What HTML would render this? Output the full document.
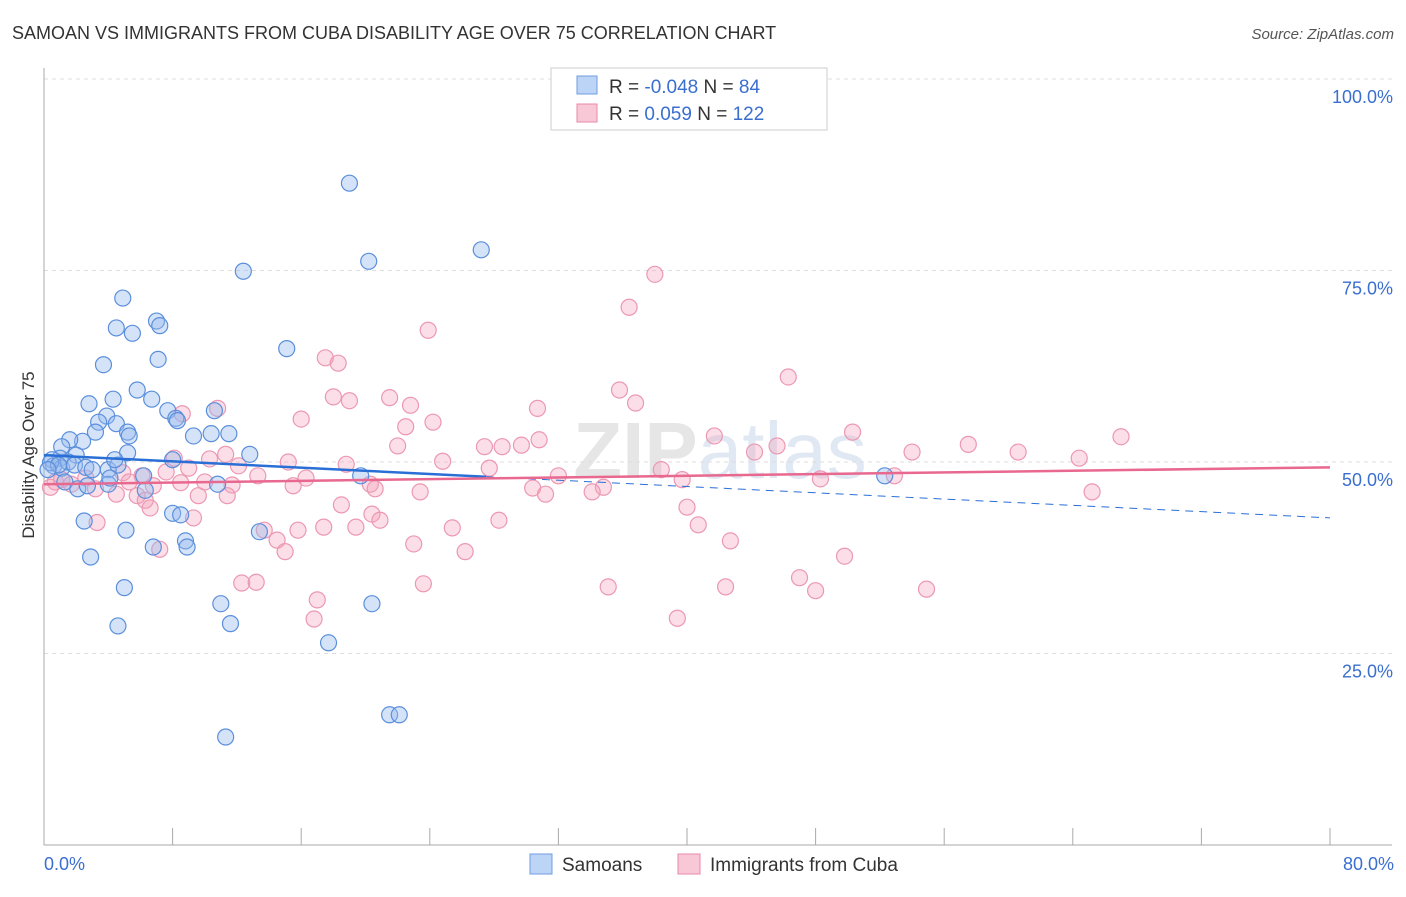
<!DOCTYPE html>
<html><head><meta charset="utf-8"><style>
body{margin:0;background:#fff;font-family:"Liberation Sans",sans-serif}
svg text{font-family:"Liberation Sans",sans-serif}
</style></head><body>
<svg id="c" width="1406" height="892">
<text x="12" y="39" font-size="18" fill="#333">SAMOAN VS IMMIGRANTS FROM CUBA DISABILITY AGE OVER 75 CORRELATION CHART</text>
<text x="1394" y="39" font-size="15" fill="#555" font-style="italic" text-anchor="end">Source: ZipAtlas.com</text>
<text x="720" y="478" font-size="80" fill="#e6e6e6" text-anchor="middle" font-weight="bold">ZIP<tspan fill="#dfe8f3" font-weight="normal">atlas</tspan></text>
<g id="grid"></g><g id="pts"></g><g id="trend"></g>
<text x="34" y="455" font-size="17" fill="#333" text-anchor="middle" transform="rotate(-90 34 455)">Disability Age Over 75</text>
<g>
<rect x="551" y="68" width="276" height="62" fill="#fff" stroke="#ccc"/>
<rect x="577" y="76" width="20" height="18" fill="#bcd4f5" stroke="#6f9de0"/>
<rect x="577" y="104" width="20" height="18" fill="#f8c8d6" stroke="#e88aa8"/>
<text x="609" y="93" font-size="19" fill="#333">R = <tspan fill="#3a6fd0">-0.048</tspan>   N =  <tspan fill="#3a6fd0">84</tspan></text>
<text x="609" y="120" font-size="19" fill="#333">R =  <tspan fill="#3a6fd0"> 0.059</tspan>   N = <tspan fill="#3a6fd0">122</tspan></text>
</g>
<g>
<rect x="530" y="854" width="22" height="20" fill="#bcd4f5" stroke="#6f9de0"/>
<text x="562" y="871" font-size="19" fill="#333">Samoans</text>
<rect x="678" y="854" width="22" height="20" fill="#f8c8d6" stroke="#e88aa8"/>
<text x="710" y="871" font-size="19" fill="#333">Immigrants from Cuba</text>
</g>
</svg>
<script>
const xTicks=[0,8,16,24,32,40,48,56,64,72,80];
const yTicks=[25,50,75,100];
const yTickLabels=["25.0%","50.0%","75.0%","100.0%"];
const blueX=[19.0,27.2,20.2,12.4,4.9,7.0,7.2,4.5,5.5,15.1,7.1,3.7,5.8,4.3,6.7,2.8,7.7,10.6,3.9,8.2,8.3,3.4,4.5,5.2,3.2,5.3,9.3,10.4,11.5,2.4,1.6,1.1,12.8,5.2,2.0,1.0,0.5,0.6,1.1,1.5,1.9,2.6,3.0,4.0,4.6,8.0,19.7,6.2,1.3,2.1,2.7,4.0,4.1,10.8,6.3,52.3,8.0,8.5,2.5,5.1,13.4,8.8,6.8,8.9,2.9,5.0,11.0,20.4,4.6,11.6,17.7,21.5,22.1,11.3,0.4,0.9,0.25,4.4];
const blueY=[86.4,77.7,76.2,74.9,71.4,68.4,67.8,67.5,66.8,64.8,63.4,62.7,59.4,58.2,58.2,57.6,56.7,56.7,56.0,55.7,55.4,55.2,55.0,53.9,53.9,53.4,53.4,53.7,53.7,52.7,52.9,52.0,51.0,51.2,50.9,50.5,50.3,49.5,49.2,50.0,49.6,49.3,49.0,49.0,49.6,50.3,48.2,48.2,47.4,46.5,46.9,47.1,47.9,47.1,46.3,48.2,43.3,43.1,42.3,41.1,40.9,39.7,38.9,38.9,37.6,33.6,31.5,31.5,28.6,28.9,26.4,17.0,17.0,14.1,49.9,49.6,49.0,50.3];
const pinkX=[38.0,36.4,23.9,17.5,18.3,46.3,35.8,18.0,19.0,21.5,36.8,22.8,30.7,10.8,8.6,16.0,24.2,22.5,50.3,67.0,41.7,30.8,57.5,45.6,22.0,27.4,28.5,29.7,60.6,54.0,44.2,11.3,8.1,10.3,64.4,24.8,15.2,18.8,9.0,12.1,27.7,38.4,7.6,4.9,6.1,13.3,16.3,32.0,39.7,48.3,52.9,10.0,8.5,11.7,6.8,5.3,15.5,20.3,20.6,30.4,34.8,34.1,31.2,23.4,0.4,0.7,1.1,1.7,2.6,3.2,4.5,5.8,6.3,9.6,11.4,65.2,6.6,18.5,20.4,40.0,9.3,20.9,28.3,3.3,17.4,19.4,25.4,40.7,13.7,15.8,14.5,23.0,42.7,7.2,15.0,26.2,49.8,47.0,12.3,13.2,23.6,35.1,42.4,48.0,54.9,17.0,16.8,39.4];
const pinkY=[74.5,70.2,67.2,63.6,62.9,61.1,59.4,58.5,58.0,58.4,57.7,57.4,57.0,57.0,56.3,55.6,55.2,54.6,53.9,53.3,53.4,52.9,52.3,52.1,52.1,52.0,52.0,52.2,51.3,51.3,51.3,51.0,50.5,50.4,50.5,50.1,50.0,49.7,49.2,49.5,49.2,49.0,48.7,48.6,48.2,48.2,47.9,48.2,47.7,47.8,48.2,47.4,47.3,47.0,46.9,47.4,46.9,47.1,46.5,46.6,46.7,46.1,45.8,46.1,46.7,47.4,47.7,47.1,47.9,46.5,45.8,45.6,45.0,45.6,45.6,46.1,44.0,44.4,43.2,44.1,42.7,42.4,42.4,42.1,41.5,41.5,41.4,41.8,41.1,41.1,39.8,39.3,39.7,38.6,38.3,38.3,37.7,34.9,34.2,34.3,34.1,33.7,33.7,33.2,33.4,32.0,29.5,29.6];
const blueTrend=[50.9,42.7];
const pinkTrend=[47.1,49.3];
const blueSolidEnd=27.5;
const sx=v=>44+v*16.075, sy=v=>845-v*7.66;
const NS="http://www.w3.org/2000/svg";
function mk(p,t,a){const e=document.createElementNS(NS,t);for(const k in a)e.setAttribute(k,a[k]);p.appendChild(e);return e;}
const g=document.getElementById('grid');
yTicks.forEach((v,i)=>{
 const l=mk(g,'line',{x1:44,x2:1392,y1:sy(v),y2:sy(v),stroke:'#ddd','stroke-dasharray':'4,4'});
 
 
 const t=mk(g,'text',{x:1393,y:sy(v)+24,'font-size':18,fill:'#3a6fd0','text-anchor':'end'});
 t.textContent=yTickLabels[i];
 
 
});
mk(g,'line',{x1:44,x2:44,y1:68,y2:845,stroke:'#aaa'});
mk(g,'line',{x1:44,x2:1392,y1:845,y2:845,stroke:'#aaa'});
xTicks.forEach(v=>{const l=mk(g,'line',{x1:sx(v),x2:sx(v),y1:828,y2:845,stroke:'#aaa'});
 
 });
const tx0=mk(g,'text',{x:44,y:870,'font-size':18,fill:'#3a6fd0'});tx0.textContent='0.0%';


const tx1=mk(g,'text',{x:1394,y:870,'font-size':18,fill:'#3a6fd0','text-anchor':'end'});tx1.textContent='80.0%';


const P=document.getElementById('pts');
pinkX.forEach((x,i)=>{const c=mk(P,'circle',{cx:sx(x),cy:sy(pinkY[i]),r:8,fill:'rgba(244,160,186,0.35)',stroke:'#ec98b2','stroke-width':1.2});
 
 });
blueX.forEach((x,i)=>{const c=mk(P,'circle',{cx:sx(x),cy:sy(blueY[i]),r:8,fill:'rgba(150,185,238,0.4)',stroke:'#5b8fdc','stroke-width':1.2});
 
 });
const T=document.getElementById('trend');
const by=v=>blueTrend[0]+(blueTrend[1]-blueTrend[0])*v/80;
const b1=mk(T,'line',{x1:sx(0),y1:sy(by(0)),x2:sx(blueSolidEnd),y2:sy(by(blueSolidEnd)),stroke:'#2a6fd6','stroke-width':2.5});


const b2=mk(T,'line',{x1:sx(blueSolidEnd),y1:sy(by(blueSolidEnd)),x2:sx(80),y2:sy(by(80)),stroke:'#2a6fd6','stroke-width':1,'stroke-dasharray':'8,6'});


const p1=mk(T,'line',{x1:sx(0),y1:sy(pinkTrend[0]),x2:sx(80),y2:sy(pinkTrend[1]),stroke:'#e8688f','stroke-width':2.5});


</script>
</body></html>
